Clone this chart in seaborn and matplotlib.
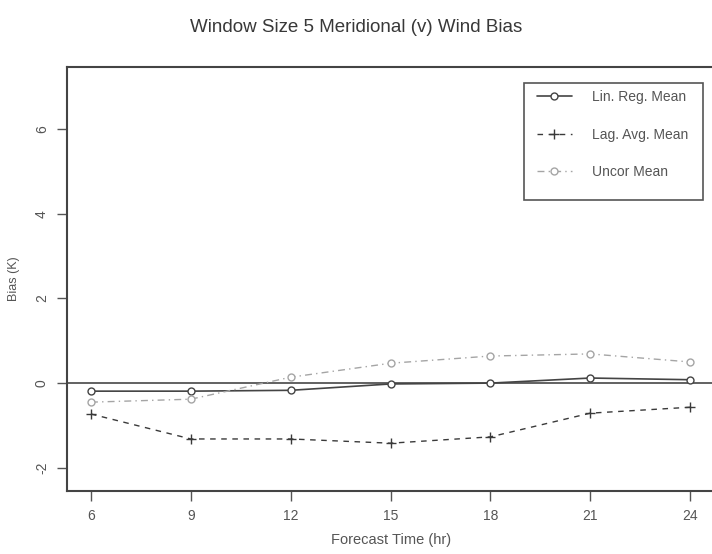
import pandas as pd
import matplotlib.pyplot as plt
import seaborn as sns

# forecast hours and bias values
hours = [6, 9, 12, 15, 18, 21, 24]
lin_reg = [-0.19, -0.19, -0.17, -0.02, 0.0, 0.12, 0.08]
lag_avg = [-0.73, -1.32, -1.32, -1.42, -1.27, -0.71, -0.57]
uncor = [-0.45, -0.38, 0.14, 0.47, 0.64, 0.69, 0.5]

series_names = ['Lin. Reg. Mean', 'Lag. Avg. Mean', 'Uncor Mean']
yticks = [-2, 0, 2, 4, 6]

sns.set_style('white')
plt.rcParams['font.family'] = ['Liberation Sans', 'DejaVu Sans']

df = pd.DataFrame({'hour': hours, series_names[0]: lin_reg,
                   series_names[1]: lag_avg, series_names[2]: uncor})

fig = plt.figure(figsize=(7.12, 5.54), dpi=100)
ax = fig.add_axes([0.0941, 0.1137, 0.909, 0.7653])

# zero reference line
ax.axhline(0, color='#555555', lw=1.3, zorder=1)

styles = {
    series_names[0]: dict(color='#444444', linestyle='-', marker='o', lw=1.2),
    series_names[1]: dict(color='#3a3a3a', linestyle=(0, (4, 4)), marker='+', lw=1.0),
    series_names[2]: dict(color='#a5a5a5', linestyle=(0, (5, 3, 1, 3)), marker='o', lw=1.0),
}

for name in series_names:
    st = styles[name]
    sns.lineplot(data=df, x='hour', y=name, ax=ax, label=name,
                 color=st['color'], linestyle=st['linestyle'], lw=st['lw'],
                 marker=st['marker'], markersize=7 if st['marker'] == '+' else 5,
                 markerfacecolor='white' if st['marker'] == 'o' else st['color'],
                 markeredgecolor=st['color'], markeredgewidth=1.0)

ax.set_xlim(5.28, 24.72)
ax.set_ylim(-2.55, 7.47)
ax.set_xticks(hours)
ax.set_yticks(yticks)
ax.set_yticklabels([str(v) for v in yticks], rotation=90, va='center')
ax.tick_params(axis='both', direction='out', length=7, width=1, color='#555555',
               labelsize=10, labelcolor='#555555', pad=6, left=True, bottom=True)

for sp in ax.spines.values():
    sp.set_color('#444444')
    sp.set_linewidth(1.5)

ax.set_xlabel('Forecast Time (hr)', fontsize=10.5, color='#555555', labelpad=7)
ax.set_ylabel('Bias (K)', fontsize=9, color='#555555', labelpad=11)
fig.suptitle('Window Size 5 Meridional (v) Wind Bias', fontsize=13.5, color='#383838',
             x=0.5, y=1 - 27 / 554, va='center')

# legend without its own frame; box drawn separately (R style, extra space below)
leg = ax.legend(loc='upper left', bbox_to_anchor=(537 / 712, 1 - 90 / 554),
                bbox_transform=fig.transFigure, numpoints=1, handlelength=2.5,
                labelspacing=1.7, borderpad=0, fontsize=10, frameon=False,
                borderaxespad=0, handletextpad=1.45)
for t in leg.get_texts():
    t.set_color('#555555')
fig.patches.append(plt.Rectangle((524 / 712, 1 - 200 / 554), 179 / 712, 117 / 554,
                                 transform=fig.transFigure, fill=False,
                                 edgecolor='#555555', lw=1.2))

fig.savefig('out.png', dpi=100)
